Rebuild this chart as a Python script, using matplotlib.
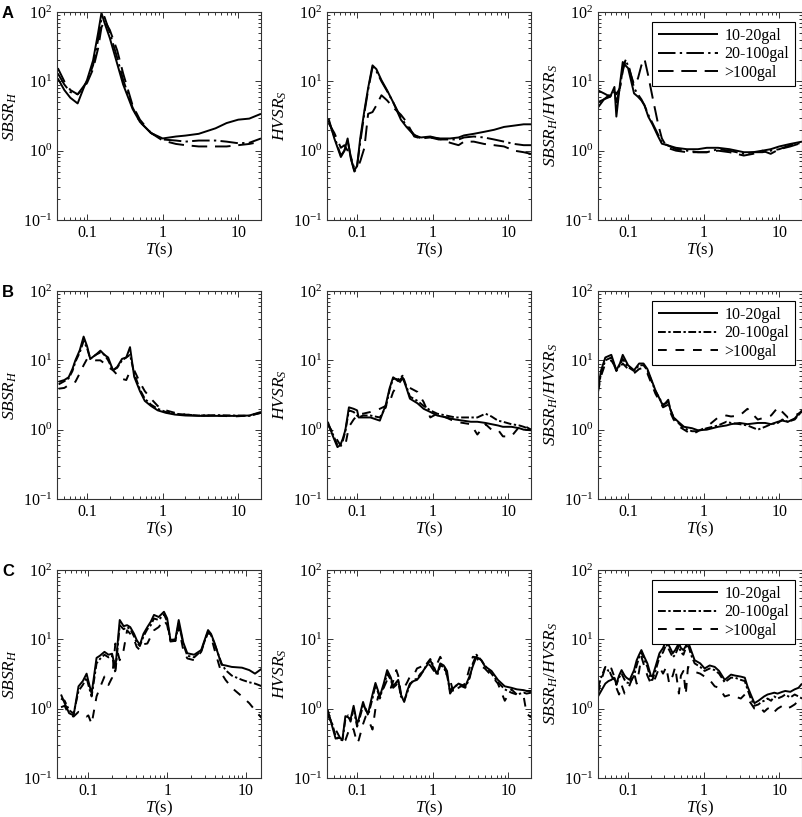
import matplotlib
matplotlib.use("Agg")
from matplotlib import pyplot as plt
from matplotlib.ticker import FixedLocator, FixedFormatter, LogLocator, NullFormatter

plt.rcParams['font.family'] = ['Liberation Serif', 'DejaVu Serif']
plt.rcParams['mathtext.fontset'] = 'custom'
plt.rcParams['mathtext.rm'] = 'Liberation Serif'
plt.rcParams['mathtext.it'] = 'Liberation Serif:italic'

# Series names (legend)
SERIES = ["10-20gal", "20-100gal", ">100gal"]

# Row A ------------------------------------------------------------------
T_A1 = [0.041, 0.05, 0.06, 0.075, 0.09, 0.1, 0.12, 0.14, 0.155, 0.17, 0.2,
        0.25, 0.3, 0.4, 0.5, 0.7, 1, 1.5, 2, 3, 5, 7, 10, 14, 20]
A1_low = [11, 7.5, 5.8, 4.8, 8, 10.5, 20, 50, 97, 70, 42, 18, 9, 4, 2.6, 1.8,
          1.5, 1.6, 1.65, 1.75, 2.1, 2.5, 2.8, 2.9, 3.4]
A1_mid = [13, 9, 7, 6.5, 8.5, 10, 17, 40, 80, 85, 50, 22, 10.5, 4.2, 2.6, 1.8,
          1.45, 1.4, 1.35, 1.4, 1.4, 1.35, 1.28, 1.3, 1.5]
A1_high = [15.5, 10, 7.5, 6.5, 8, 9.5, 15, 30, 60, 75, 55, 28, 13, 4.5, 2.8,
           1.8, 1.4, 1.25, 1.2, 1.15, 1.15, 1.15, 1.2, 1.25, 1.35]

T_A2 = [0.042, 0.05, 0.061, 0.068, 0.075, 0.082, 0.092, 0.1, 0.11, 0.125,
        0.14, 0.16, 0.18, 0.21, 0.25, 0.3, 0.38, 0.45, 0.57, 0.7, 0.93, 1.2,
        1.7, 2.2, 2.6, 3.5, 4.8, 6.5, 8.8, 12, 16, 20]
A2_low = [2.9, 1.5, 0.81, 1.0, 1.5, 0.8, 0.52, 0.6, 1.5, 3.8, 8, 17, 15, 10.4,
          7.4, 5, 2.8, 2.2, 1.66, 1.55, 1.6, 1.5, 1.5, 1.55, 1.66, 1.75, 1.87,
          2.0, 2.2, 2.3, 2.4, 2.4]
A2_mid = [2.7, 1.6, 0.85, 1.0, 1.4, 0.85, 0.55, 0.6, 1.3, 3.5, 7.5, 16, 14, 10,
          7.2, 5, 3.0, 2.3, 1.7, 1.5, 1.55, 1.45, 1.45, 1.45, 1.55, 1.6, 1.55,
          1.45, 1.35, 1.25, 1.2, 1.2]
A2_high = [2.5, 1.8, 1.1, 1.2, 1.0, 0.8, 0.5, 0.55, 0.7, 1.1, 3.4, 3.6, 4.5,
           6.3, 5.3, 4.2, 3.3, 2.6, 1.6, 1.5, 1.55, 1.5, 1.3, 1.2, 1.35, 1.35,
           1.25, 1.2, 1.15, 1.0, 0.95, 0.9]

T_A3 = [0.04, 0.048, 0.058, 0.066, 0.07, 0.078, 0.085, 0.092, 0.1, 0.11, 0.12,
        0.135, 0.15, 0.165, 0.185, 0.21, 0.25, 0.28, 0.33, 0.43, 0.6, 0.84,
        1.1, 1.55, 2.2, 3.4, 4.5, 6, 7.7, 10, 14, 20]
A3_low = [7.4, 6.7, 6.0, 8.3, 3.1, 9, 19, 17, 15.5, 10, 6.7, 6, 5.3, 4.5, 3.1,
          2.4, 1.6, 1.26, 1.2, 1.1, 1.05, 1.05, 1.1, 1.1, 1.05, 0.95, 0.95,
          1.0, 1.05, 1.15, 1.25, 1.35]
A3_mid = [4.2, 5.5, 6.5, 7, 5, 8, 15, 20, 17, 12, 8, 6.5, 5.5, 4.5, 3.3, 2.5,
          1.7, 1.3, 1.2, 1.05, 1.0, 0.95, 0.95, 1.05, 1.0, 0.9, 0.95, 0.95,
          1.0, 1.05, 1.2, 1.3]
A3_high = [5, 5.5, 6, 7.5, 6.5, 8, 14, 20, 18, 12, 9, 11, 17, 21, 12, 6, 2.4,
           1.5, 1.1, 1.0, 0.95, 0.95, 0.95, 1.0, 0.95, 0.85, 0.9, 1.0, 0.9,
           1.05, 1.15, 1.3]

# Row B ------------------------------------------------------------------
T_B1 = [0.042, 0.05, 0.057, 0.064, 0.07, 0.08, 0.09, 0.1, 0.11, 0.13, 0.15,
        0.17, 0.19, 0.22, 0.25, 0.29, 0.33, 0.37, 0.42, 0.5, 0.58, 0.7, 0.86,
        1.1, 1.45, 2, 3, 5, 8.8, 14, 20]
B1_low = [4.9, 5.2, 5.7, 7.5, 10, 14, 22, 16, 10.5, 12, 13.8, 12, 11, 7.2, 8,
          10.5, 11, 15.5, 5.8, 3.6, 2.6, 2.2, 1.9, 1.75, 1.65, 1.6, 1.58,
          1.58, 1.58, 1.6, 1.8]
B1_mid = [4.5, 5.0, 5.5, 7.0, 9.5, 13, 19, 15, 10.5, 12, 13, 12, 10, 7.2, 7.8,
          10, 11, 12, 6.5, 3.8, 2.8, 2.3, 2.0, 1.8, 1.7, 1.65, 1.6, 1.62, 1.6,
          1.58, 1.75]
B1_high = [3.9, 4.0, 4.4, 4.7, 4.9, 6.5, 8.5, 10.5, 10.5, 10, 10, 9, 8, 7.2,
           6.2, 5.4, 5.2, 7, 7.2, 4.8, 3.6, 2.8, 2.2, 1.9, 1.75, 1.65, 1.6,
           1.6, 1.55, 1.6, 1.75]

T_B2 = [0.041, 0.048, 0.055, 0.06, 0.065, 0.07, 0.078, 0.09, 0.1, 0.105, 0.12,
        0.15, 0.2, 0.24, 0.27, 0.3, 0.35, 0.4, 0.45, 0.5, 0.63, 0.76, 0.93,
        1.15, 1.5, 2, 3.2, 3.9, 5, 6, 7.3, 8.5, 11, 14, 16, 20]
B2_low = [1.3, 0.8, 0.56, 0.6, 0.75, 0.99, 2.1, 2.0, 1.9, 1.5, 1.5, 1.5, 1.35,
          2.3, 4, 5.7, 5, 5.7, 4, 2.8, 2.4, 2.0, 1.8, 1.6, 1.5, 1.4, 1.3, 1.3,
          1.25, 1.2, 1.15, 1.1, 1.1, 1.05, 1.0, 0.98]
B2_mid = [1.2, 0.85, 0.6, 0.6, 0.7, 0.95, 1.9, 1.8, 1.6, 1.5, 1.6, 1.6, 1.5,
          2.1, 3.8, 5.5, 5.3, 6, 4.2, 3, 2.6, 2.2, 1.9, 1.7, 1.6, 1.5, 1.5,
          1.5, 1.7, 1.55, 1.35, 1.3, 1.2, 1.15, 1.1, 1.0]
B2_high = [1.2, 0.9, 0.7, 0.6, 0.55, 0.6, 1.1, 1.4, 1.6, 1.7, 1.7, 1.8, 2.0,
           2.2, 2.5, 3.5, 4.5, 5.5, 4.5, 4.0, 3.5, 2.5, 1.5, 1.7, 1.5, 1.3,
           1.2, 0.85, 1.2, 1.0, 1.0, 0.8, 0.8, 1.1, 1.15, 1.0]

T_B3 = [0.04, 0.044, 0.05, 0.06, 0.07, 0.078, 0.085, 0.1, 0.12, 0.14, 0.16,
        0.18, 0.23, 0.29, 0.34, 0.36, 0.4, 0.48, 0.55, 0.7, 0.84, 1.1, 1.55,
        2, 2.3, 3, 3.8, 5.2, 6.5, 7.8, 9.6, 11, 13, 16, 20]
B3_low = [3.9, 7.2, 11, 12, 7.2, 9, 12, 8.5, 7.2, 9, 9, 7.5, 3.7, 2.2, 2.7, 2.0,
          1.5, 1.25, 1.1, 1.05, 0.98, 1.0, 1.1, 1.15, 1.2, 1.25, 1.2, 1.25,
          1.25, 1.2, 1.3, 1.35, 1.3, 1.45, 1.9]
B3_mid = [3.8, 6.5, 10, 11, 7.0, 8.5, 10.5, 8, 7.0, 8.5, 8.5, 7.2, 3.6, 2.3,
          2.5, 2.0, 1.5, 1.2, 1.05, 0.95, 0.95, 1.05, 1.15, 1.3, 1.25, 1.2,
          1.15, 1.0, 1.1, 1.2, 1.25, 1.4, 1.3, 1.4, 1.85]
B3_high = [3.5, 6.0, 9, 10, 7.5, 8, 9, 7.5, 6.5, 7.5, 7.8, 6.5, 3.3, 2.1, 2.3,
           1.8, 1.4, 1.1, 1.0, 0.85, 0.95, 1.1, 1.5, 1.6, 1.55, 1.6, 2.0, 1.4,
           1.5, 1.6, 2.1, 1.8, 1.5, 1.6, 1.8]

# Row C ------------------------------------------------------------------
T_C1 = [0.045, 0.05, 0.057, 0.065, 0.075, 0.085, 0.095, 0.1, 0.11, 0.127,
        0.14, 0.16, 0.18, 0.2, 0.22, 0.25, 0.28, 0.31, 0.34, 0.38, 0.41, 0.45,
        0.5, 0.56, 0.62, 0.68, 0.78, 0.91, 1.0, 1.1, 1.27, 1.4, 1.6, 1.8, 2.2,
        2.7, 3.3, 3.6, 4.0, 4.9, 5.5, 6.6, 8.9, 11, 13, 16]
C1_low = [1.6, 1.2, 0.86, 0.8, 2.1, 2.5, 3.2, 2.5, 1.65, 5.4, 5.8, 6.6, 6.0,
          6.2, 3.8, 19, 15.5, 16, 15, 12, 9.8, 8.3, 12, 15, 18, 22.5, 21, 25,
          20, 9.8, 10, 19, 9, 6.3, 6.0, 7.0, 13.6, 12, 8.8, 4.3, 4.2, 4.0,
          3.9, 3.6, 3.2, 3.8]
C1_mid = [1.4, 1.3, 0.95, 0.85, 1.8, 2.2, 2.8, 2.2, 1.5, 4.5, 5.2, 6.0, 5.5,
          5.8, 3.3, 16, 14, 15, 14, 11, 9, 8, 11, 14, 16, 20, 19, 23, 18, 9.5,
          9.5, 17, 8.5, 5.8, 5.5, 6.8, 13, 11.5, 8.5, 4.5, 3.6, 3.0, 2.6, 2.4,
          2.3, 2.1]
C1_high = [1.05, 1.1, 0.8, 0.77, 0.9, 0.85, 0.77, 0.8, 0.6, 1.5, 2.0, 2.9, 2.2,
           2.8, 8.7, 5, 7, 13.5, 12, 10, 7.8, 7.0, 8.5, 8.7, 11, 13.5, 15, 19,
           16, 9.3, 9.5, 15, 7, 5.3, 5.0, 6.6, 12.7, 11, 7, 3.2, 2.6, 2.0, 1.5,
           1.2, 0.95, 0.72]

T_C2 = [0.041, 0.047, 0.052, 0.058, 0.064, 0.07, 0.076, 0.082, 0.09, 0.1,
        0.105, 0.12, 0.13, 0.14, 0.16, 0.175, 0.19, 0.2, 0.225, 0.25, 0.28,
        0.3, 0.33, 0.35, 0.38, 0.42, 0.46, 0.5, 0.56, 0.62, 0.69, 0.76, 0.84,
        0.93, 1.04, 1.15, 1.26, 1.4, 1.55, 1.7, 1.9, 2.2, 2.7, 3.1, 3.4, 3.8,
        4.4, 4.9, 6, 7.3, 9, 11, 13, 16, 17.5, 20]
C2_low = [0.95, 0.55, 0.37, 0.38, 0.36, 0.78, 0.75, 0.7, 1.1, 0.6, 0.7, 1.25,
          0.95, 0.86, 1.6, 2.35, 1.8, 1.5, 2.3, 3.6, 2.8, 2.1, 2.4, 2.6, 1.6,
          1.25, 1.8, 2.3, 2.5, 2.6, 3.0, 3.6, 4.2, 5.0, 3.8, 3.2, 4.5, 4.2,
          3.5, 1.65, 2.0, 2.3, 2.1, 3.0, 4.1, 5.6, 5.0, 4.1, 3.5, 2.6, 2.1,
          2.0, 1.9, 1.85, 1.8, 1.8]
C2_mid = [0.85, 0.6, 0.4, 0.36, 0.35, 0.7, 0.8, 0.65, 1.0, 0.55, 0.65, 1.1,
          1.0, 0.8, 1.4, 2.2, 1.7, 1.45, 2.1, 3.2, 2.6, 2.0, 2.2, 2.5, 1.5,
          1.3, 1.7, 2.2, 2.6, 2.7, 3.2, 3.5, 4.5, 5.2, 4.0, 3.0, 4.2, 4.0, 3.0,
          1.8, 2.1, 2.2, 2.0, 2.8, 4.5, 6.0, 5.0, 4.2, 3.2, 2.4, 1.9, 1.7,
          1.6, 1.7, 1.65, 1.7]
C2_high = [0.8, 0.6, 0.5, 0.4, 0.32, 0.35, 0.45, 0.55, 0.5, 0.32, 0.35, 0.6,
           0.77, 0.7, 0.5, 1.0, 1.5, 1.4, 2.0, 2.6, 2.0, 2.5, 3.6, 3.0, 1.65,
           2.0, 2.4, 2.9, 3.0, 3.8, 4.0, 4.3, 4.5, 4.2, 3.5, 4.5, 5.6, 4.5,
           3.0, 2.6, 1.65, 2.0, 2.3, 4.0, 5.6, 5.5, 4.1, 3.8, 3.0, 2.3, 1.3,
           1.9, 1.6, 1.5, 0.85, 0.75]

T_C3 = [0.04, 0.044, 0.05, 0.055, 0.06, 0.065, 0.07, 0.076, 0.082, 0.09,
        0.095, 0.105, 0.12, 0.13, 0.14, 0.15, 0.165, 0.18, 0.2, 0.21, 0.23,
        0.26, 0.29, 0.32, 0.35, 0.39, 0.42, 0.47, 0.5, 0.54, 0.58, 0.62, 0.68,
        0.76, 0.9, 1.03, 1.2, 1.4, 1.6, 1.9, 2.3, 2.6, 3.1, 3.5, 3.8, 4.2,
        4.7, 5.3, 5.8, 6.3, 7, 7.8, 8.6, 9.5, 11, 12, 14, 16, 18, 20]
C3_low = [1.5, 1.8, 2.3, 2.5, 2.6, 2.8, 2.3, 3.0, 3.6, 3.0, 2.8, 2.6, 3.6, 5.0,
          6.0, 7.0, 5.5, 4.5, 3.0, 2.9, 4.0, 6.3, 7.5, 9.8, 8.0, 6.3, 7.0, 8.8,
          7.5, 7.0, 8.0, 9.3, 7.0, 5.0, 4.5, 3.8, 4.2, 4.0, 3.5, 2.6, 3.1,
          3.0, 2.9, 2.8, 2.1, 1.6, 1.2, 1.3, 1.4, 1.5, 1.6, 1.65, 1.7, 1.65,
          1.75, 1.8, 1.75, 1.9, 2.0, 2.3]
C3_mid = [2.0, 2.8, 4.0, 3.5, 3.8, 3.0, 2.2, 2.8, 3.2, 2.6, 2.4, 2.3, 3.0, 4.2,
          5.5, 6.5, 5.0, 4.0, 2.6, 2.6, 3.5, 5.5, 6.5, 8.5, 7.0, 5.5, 6.0, 8.0,
          6.5, 6.0, 7.5, 8.5, 6.0, 4.5, 4.0, 3.5, 3.8, 3.6, 3.2, 2.4, 2.8,
          2.8, 2.6, 2.5, 1.9, 1.4, 1.1, 1.15, 1.25, 1.3, 1.4, 1.3, 1.5, 1.4,
          1.5, 1.6, 1.45, 1.6, 1.5, 1.4]
C3_high = [1.65, 2.5, 4.0, 3.8, 3.0, 2.6, 2.0, 1.6, 2.2, 1.65, 1.7, 2.2, 3.3,
           2.3, 3.5, 5.6, 4.0, 3.0, 2.3, 2.3, 2.8, 4.0, 3.2, 4.0, 2.3, 3.0, 4.0,
           1.65, 3.0, 3.5, 1.6, 4.0, 3.8, 3.4, 3.2, 2.9, 2.6, 2.1, 2.0, 1.5,
           1.6, 1.5, 1.4, 1.6, 1.4, 1.2, 1.0, 0.95, 1.0, 0.9, 1.0, 1.05, 0.9,
           1.0, 1.1, 1.0, 1.05, 1.15, 1.3, 1.4]

YLABELS = [r'$SBSR_H$', r'$HVSR_S$', r'$SBSR_H/HVSR_S$']
ROW_TAGS = ["A", "B", "C"]

panels = [
    [(T_A1, A1_low, A1_mid, A1_high), (T_A2, A2_low, A2_mid, A2_high),
     (T_A3, A3_low, A3_mid, A3_high)],
    [(T_B1, B1_low, B1_mid, B1_high), (T_B2, B2_low, B2_mid, B2_high),
     (T_B3, B3_low, B3_mid, B3_high)],
    [(T_C1, C1_low, C1_mid, C1_high), (T_C2, C2_low, C2_mid, C2_high),
     (T_C3, C3_low, C3_mid, C3_high)],
]

# line styles: row A uses long dashes, rows B/C shorter ones
styles_A = [(0, ()), (0, (9, 2.2, 1.2, 2.2)), (0, (8, 4))]
styles_BC = [(0, ()), (0, (4, 1.3, 1.2, 1.3)), (0, (4.5, 4.5))]

W, H = 803, 817
fig = plt.figure(figsize=(W / 100, H / 100), dpi=100)

col_left = [57, 327, 598]
row_top = [12, 291, 570]
ax_w, ax_h = 204, 208

for r in range(3):
    for c in range(3):
        left = col_left[c] / W
        bottom = 1 - (row_top[r] + ax_h) / H
        ax = fig.add_axes([left, bottom, ax_w / W, ax_h / H])
        T, lo, mid, hi = panels[r][c]
        styles = styles_A if r == 0 else styles_BC
        for vals, ls, name in zip([lo, mid, hi], styles, SERIES):
            ax.plot(T, vals, color="black", lw=1.4, linestyle=ls, label=name)

        ax.set_xscale("log")
        ax.set_yscale("log")
        if r == 2 and c == 0:
            ax.set_xlim(0.04, 15.5)
        else:
            ax.set_xlim(0.04, 20)
        ax.set_ylim(0.1, 100)

        ax.xaxis.set_major_locator(FixedLocator([0.1, 1, 10]))
        ax.xaxis.set_major_formatter(FixedFormatter(["0.1", "1", "10"]))
        ax.yaxis.set_major_locator(FixedLocator([0.1, 1, 10, 100]))
        ax.yaxis.set_major_formatter(FixedFormatter(
            [r'$10^{-1}$', r'$10^{0}$', r'$10^{1}$', r'$10^{2}$']))
        for axis in (ax.xaxis, ax.yaxis):
            axis.set_minor_locator(LogLocator(base=10, subs=range(2, 10), numticks=20))
            axis.set_minor_formatter(NullFormatter())

        ax.tick_params(which="both", direction="in", top=True, right=True,
                       color="#333333", labelsize=11.5, width=0.7)
        ax.tick_params(which="major", length=4)
        ax.tick_params(which="minor", length=2.2)
        for sp in ax.spines.values():
            sp.set_color("#333333")
            sp.set_linewidth(0.8)

        ax.set_xlabel(r'$T$(s)', fontsize=12, labelpad=0)
        ax.set_ylabel(YLABELS[c], fontsize=12.5, labelpad=3)

        if c == 2:
            leg = ax.legend(loc="upper right", bbox_to_anchor=(0.966, 0.95),
                            borderaxespad=0, fontsize=11.5, handlelength=3.8,
                            handletextpad=0.4, labelspacing=0.15,
                            borderpad=0.35, fancybox=False, framealpha=1)
            leg.get_frame().set_edgecolor("black")
            leg.get_frame().set_linewidth(0.8)

    fig.text(2 / W, 1 - (row_top[r] - 6) / H, ROW_TAGS[r], fontsize=12,
             fontweight="bold", family="Liberation Sans", va="top", ha="left")

fig.savefig("out.png", dpi=100)
